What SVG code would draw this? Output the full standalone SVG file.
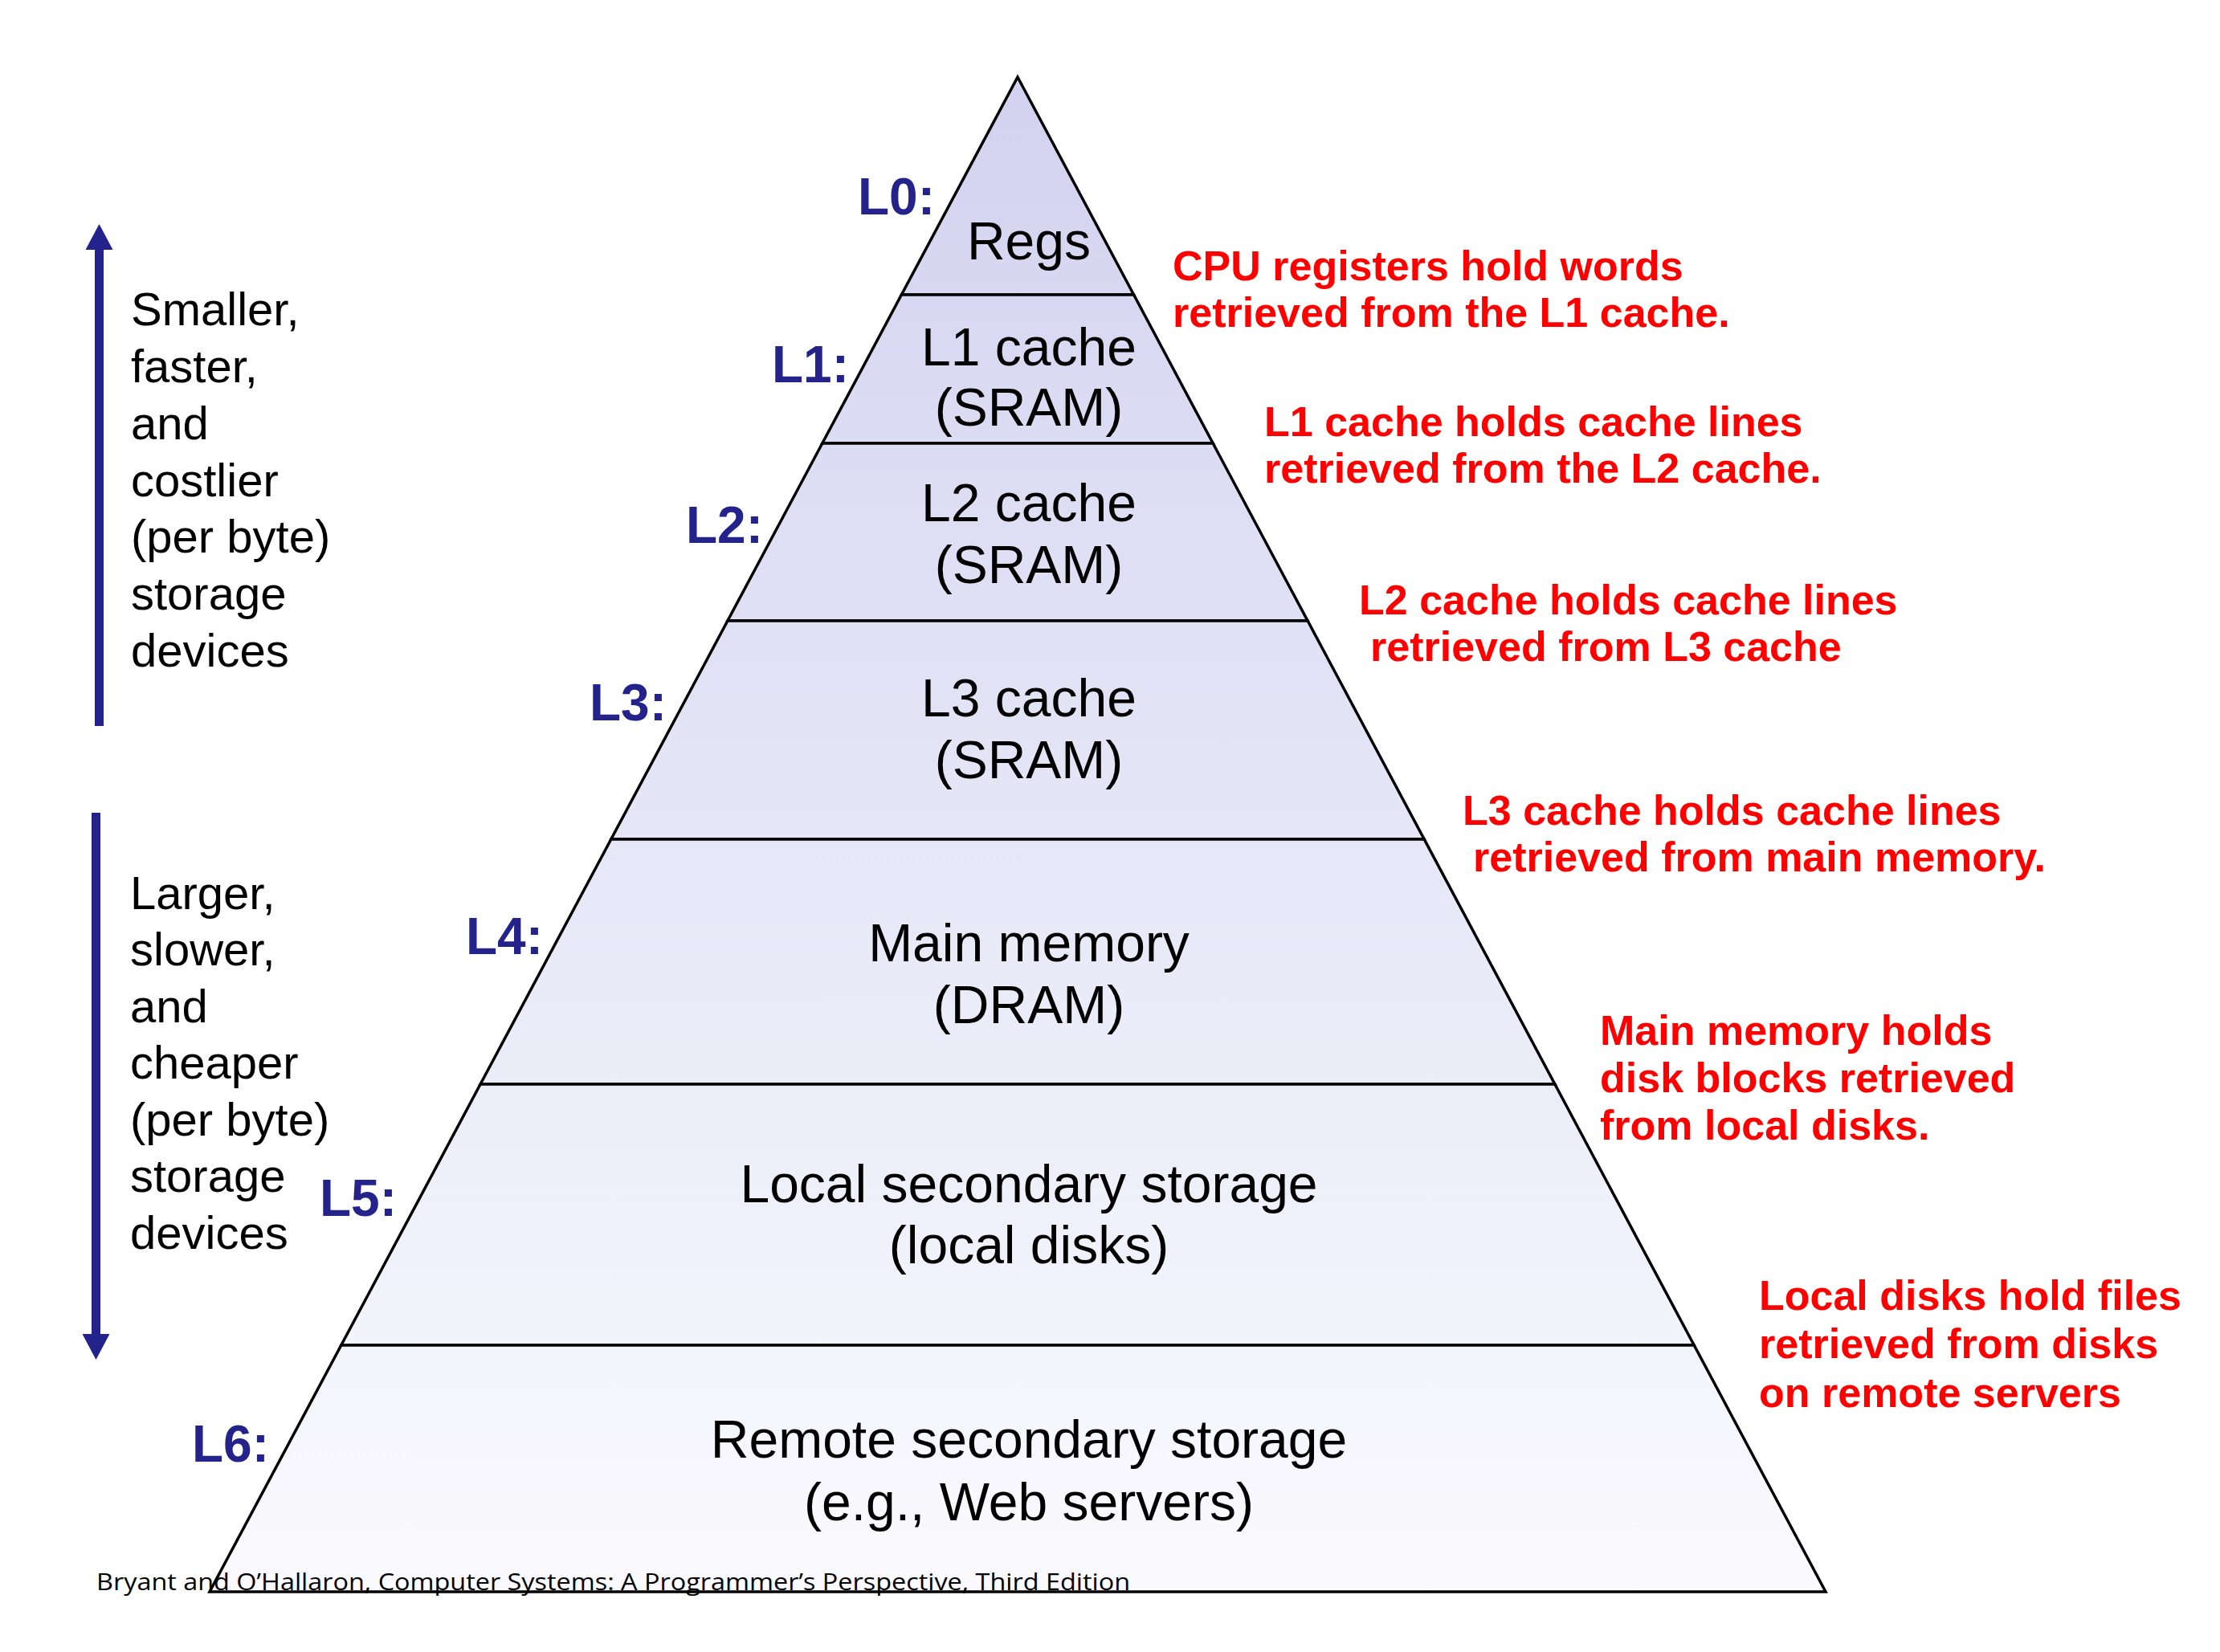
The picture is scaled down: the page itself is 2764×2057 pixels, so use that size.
<svg xmlns="http://www.w3.org/2000/svg" width="2764" height="2057" viewBox="0 0 2764 2057">
<style>
.layer{stroke:#000;stroke-width:3.5;stroke-linejoin:miter;fill:url(#pyr)}
.lt{font-family:"Liberation Sans",Arial,sans-serif;font-size:66px;fill:#000;text-anchor:middle}
.lv{font-family:"Liberation Sans",Arial,sans-serif;font-size:64px;font-weight:bold;fill:#23238B;text-anchor:end}
.side{font-family:"Liberation Sans",Arial,sans-serif;font-size:58px;fill:#000}
.note{font-family:"Liberation Sans",Arial,sans-serif;font-size:52px;font-weight:bold;fill:#FF0000}
.foot{font-family:"Open Sans","Liberation Sans",sans-serif;font-size:29px;fill:#000}
.arr{stroke:#23238B;stroke-width:11;fill:none}
</style>
<defs>
<linearGradient id="pyr" gradientUnits="userSpaceOnUse" x1="0" y1="96" x2="0" y2="1982">
<stop offset="0" stop-color="#D2D2F0"/>
<stop offset="1" stop-color="#FAFAFE"/>
</linearGradient>
<marker id="head" markerUnits="userSpaceOnUse" markerWidth="34" markerHeight="34" viewBox="0 0 34 34" refX="2" refY="17" orient="auto">
<path d="M0,0 L32,17 L0,34 Z" fill="#23238B"/>
</marker>
</defs>
<rect width="2764" height="2057" fill="#FFFFFF"/>

<g id="L0">
<polygon class="layer" points="1267,96 1411.6,367 1122.4,367"/>
<text class="lv" x="1164" y="267">L0:</text>
<text class="lt" x="1281" y="323">Regs</text>
</g>
<g id="L1">
<polygon class="layer" points="1122.4,367 1411.6,367 1510.2,552 1023.8,552"/>
<text class="lv" x="1057" y="476">L1:</text>
<text class="lt" x="1281" y="455">L1 cache</text>
<text class="lt" x="1281" y="530">(SRAM)</text>
</g>
<g id="L2">
<polygon class="layer" points="1023.8,552 1510.2,552 1628.1,773 905.9,773"/>
<text class="lv" x="950" y="676">L2:</text>
<text class="lt" x="1281" y="649">L2 cache</text>
<text class="lt" x="1281" y="726">(SRAM)</text>
</g>
<g id="L3">
<polygon class="layer" points="905.9,773 1628.1,773 1773.2,1045 760.8,1045"/>
<text class="lv" x="830" y="897">L3:</text>
<text class="lt" x="1281" y="892">L3 cache</text>
<text class="lt" x="1281" y="969">(SRAM)</text>
</g>
<g id="L4">
<polygon class="layer" points="760.8,1045 1773.2,1045 1935.9,1350 598.1,1350"/>
<text class="lv" x="676" y="1188">L4:</text>
<text class="lt" x="1281" y="1197">Main memory</text>
<text class="lt" x="1281" y="1274">(DRAM)</text>
</g>
<g id="L5">
<polygon class="layer" points="598.1,1350 1935.9,1350 2109.2,1675 424.8,1675"/>
<text class="lv" x="494" y="1514">L5:</text>
<text class="lt" x="1281" y="1497">Local secondary storage</text>
<text class="lt" x="1281" y="1573">(local disks)</text>
</g>
<g id="L6">
<polygon class="layer" points="424.8,1675 2109.2,1675 2273,1982 261,1982"/>
<text class="lv" x="335" y="1820">L6:</text>
<text class="lt" x="1281" y="1815">Remote secondary storage</text>
<text class="lt" x="1281" y="1893">(e.g., Web servers)</text>
</g>

<g id="connectors">
<line class="arr" x1="123.5" y1="904" x2="123.5" y2="309" marker-end="url(#head)"/>
<line class="arr" x1="119.5" y1="1012" x2="119.5" y2="1663" marker-end="url(#head)"/>
</g>

<g id="side-up">
<text class="side" x="163" y="405">Smaller,</text>
<text class="side" x="163" y="476">faster,</text>
<text class="side" x="163" y="547">and</text>
<text class="side" x="163" y="618">costlier</text>
<text class="side" x="163" y="688">(per byte)</text>
<text class="side" x="163" y="759">storage</text>
<text class="side" x="163" y="830">devices</text>
</g>
<g id="side-down">
<text class="side" x="162" y="1132">Larger,</text>
<text class="side" x="162" y="1202">slower,</text>
<text class="side" x="162" y="1273">and</text>
<text class="side" x="162" y="1343">cheaper</text>
<text class="side" x="162" y="1414">(per byte)</text>
<text class="side" x="162" y="1484">storage</text>
<text class="side" x="162" y="1555">devices</text>
</g>

<g id="notes">
<text class="note" x="1460" y="349">CPU registers hold words</text>
<text class="note" x="1460" y="407">retrieved from the L1 cache.</text>
<text class="note" x="1574" y="543">L1 cache holds cache lines</text>
<text class="note" x="1574" y="601">retrieved from the L2 cache.</text>
<text class="note" x="1692" y="765">L2 cache holds cache lines</text>
<text class="note" x="1706" y="823">retrieved from L3 cache</text>
<text class="note" x="1821" y="1027">L3 cache holds cache lines</text>
<text class="note" x="1834" y="1085">retrieved from main memory.</text>
<text class="note" x="1992" y="1301">Main memory holds</text>
<text class="note" x="1992" y="1360">disk blocks retrieved</text>
<text class="note" x="1992" y="1419">from local disks.</text>
<text class="note" x="2190" y="1631">Local disks hold files</text>
<text class="note" x="2190" y="1691">retrieved from disks</text>
<text class="note" x="2190" y="1752">on remote servers</text>
</g>

<text class="foot" x="120" y="1980" textLength="1287" lengthAdjust="spacingAndGlyphs">Bryant and O’Hallaron, Computer Systems: A Programmer’s Perspective, Third Edition</text>
</svg>
